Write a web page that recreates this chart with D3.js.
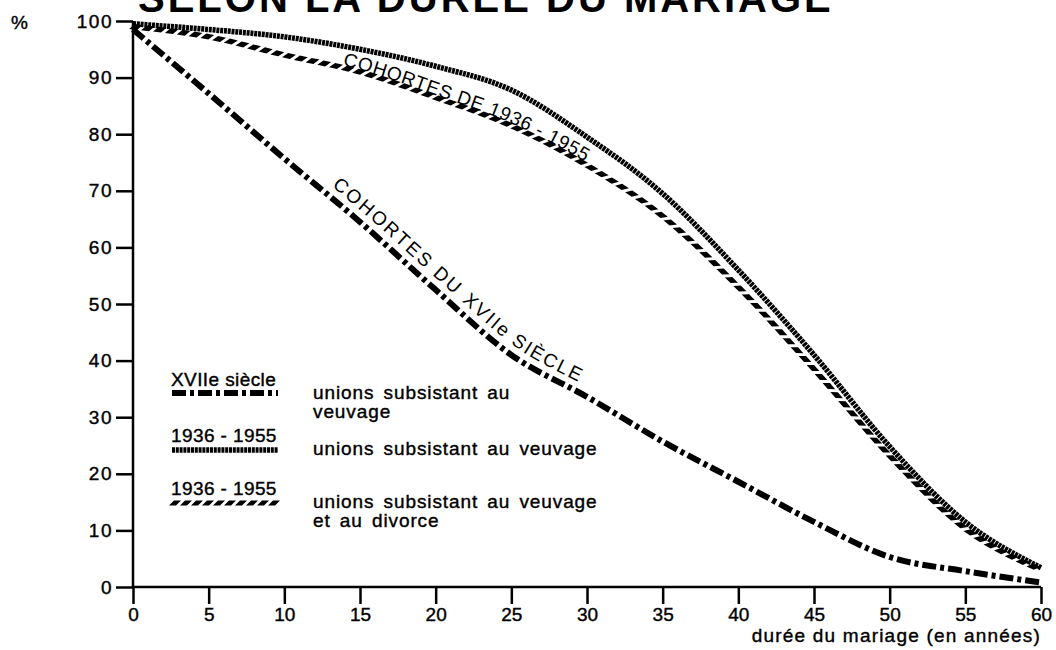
<!DOCTYPE html>
<html lang="fr">
<head>
<meta charset="UTF-8">
<title>Selon la durée du mariage</title>
<script src="https://d3js.org/d3.v7.min.js"></script>
<style>
    body { margin: 0; background: #fff; }
    svg { display: block; font-family: "Liberation Sans", Arial, sans-serif; }
    .tick text { font-size: 19px; fill: #000; stroke: #000; stroke-width: 0.4px; }
    .lbl { font-size: 19px; fill: #000; stroke: #000; stroke-width: 0.4px; }
    .curve-lbl { font-size: 19px; fill: #000; }
</style>
</head>
<body>
<svg width="1056" height="650"></svg>
<script>
// years of marriage
const years = [0, 5, 10, 15, 20, 25, 30, 35, 40, 45, 50, 55, 60];
// % of unions still existing
const xviiSiecle = [98.5, 87.2, 75.7, 64.5, 52.5, 41, 33.6, 25.7, 18.6, 11.5, 5.3, 2.8, 0.8];
const veuvage1936 = [99.5, 98.5, 97.2, 95, 92, 87.8, 79.5, 69.5, 56, 41, 24.8, 11.5, 3.4];
const divorce1936 = [99, 97.2, 94, 91, 86.5, 81.5, 74.5, 65.5, 53, 38.5, 23.2, 10.3, 3];
const xTicks = [0, 5, 10, 15, 20, 25, 30, 35, 40, 45, 50, 55, 60];
const yTicks = [0, 10, 20, 30, 40, 50, 60, 70, 80, 90, 100];

const svg = d3.select("svg");
const x = d3.scaleLinear().domain([0, 60]).range([133, 1041]);
const y = d3.scaleLinear().domain([0, 100]).range([587, 21]);

// title (cut at top like the scan)
svg.append("text")
    .attr("x", 138).attr("y", 12)
    .attr("font-size", 40).attr("font-weight", "bold")
    .attr("letter-spacing", 3)
    .text("SELON LA DURÉE DU MARIAGE");

svg.append("text").attr("class", "lbl")
    .attr("x", 11).attr("y", 29).attr("font-size", 16)
    .text("%");

// axes
const gy = svg.append("g")
    .attr("transform", `translate(${x(0)},0)`)
    .call(d3.axisLeft(y).tickValues(yTicks).tickSize(17).tickPadding(3));
gy.selectAll("text").attr("letter-spacing", 1.5);
gy.select(".domain").attr("d", `M0,${y(100)}V${y(0)}`);

const gx = svg.append("g")
    .attr("transform", `translate(0,${y(0)})`)
    .call(d3.axisBottom(x).tickValues(xTicks).tickSize(17).tickPadding(4));
gx.select(".domain").attr("d", `M${x(0)},0H${x(60)}`);

svg.selectAll(".domain").attr("stroke", "#000").attr("stroke-width", 2.5);
svg.selectAll(".tick line").attr("stroke", "#000").attr("stroke-width", 2.5);

svg.append("text").attr("class", "lbl")
    .attr("x", x(60)).attr("y", 642).attr("text-anchor", "end")
    .attr("letter-spacing", 1.2)
    .text("durée du mariage (en années)");

// curves
const line = d3.line()
    .x(d => x(d[0]))
    .y(d => y(d[1]))
    .curve(d3.curveMonotoneX);

const styles = {
    xvii: { w: 6, dash: "14,4,4,4" },
    veuv: { w: 5.5, dash: "3,0.8" }
};

function drawCurve(vals, st, id) {
    return svg.append("path")
        .attr("id", id)
        .attr("d", line(years.map((yr, i) => [yr, vals[i]])))
        .attr("fill", "none")
        .attr("stroke", "#000")
        .attr("stroke-width", st ? st.w : 1)
        .attr("stroke-dasharray", st ? st.dash : null)
        .attr("stroke-opacity", st ? 1 : 0);
}

// hatched style: slanted little parallelograms walked along a path
function hatch(node, step, len, thick, skew) {
    const total = node.getTotalLength();
    const g = svg.append("g");
    for (let s = 3; s < total - 3; s += step) {
        const p = node.getPointAtLength(s);
        const q = node.getPointAtLength(Math.min(s + 1, total));
        let tx = q.x - p.x, ty = q.y - p.y;
        const n = Math.hypot(tx, ty) || 1;
        tx /= n; ty /= n;
        const nx = ty, ny = -tx; // normal pointing "up"
        const h = thick / 2, a = len / 2;
        const pts = [
            [p.x - tx * a - nx * h - tx * skew, p.y - ty * a - ny * h - ty * skew],
            [p.x + tx * a - nx * h - tx * skew, p.y + ty * a - ny * h - ty * skew],
            [p.x + tx * a + nx * h + tx * skew, p.y + ty * a + ny * h + ty * skew],
            [p.x - tx * a + nx * h + tx * skew, p.y - ty * a + ny * h + ty * skew]
        ];
        g.append("polygon").attr("points", pts.map(d => d.join(",")).join(" ")).attr("fill", "#000");
    }
}

const pDiv = drawCurve(divorce1936, null, "cDiv");
hatch(pDiv.node(), 12, 8, 5.5, 2.5);
const pVeuv = drawCurve(veuvage1936, styles.veuv, "cVeuv");
const pXvii = drawCurve(xviiSiecle, styles.xvii, "cXvii");

// find the path length where the curve reaches a given x pixel
function lengthAtX(node, px) {
    let lo = 0, hi = node.getTotalLength();
    for (let k = 0; k < 40; k++) {
        const mid = (lo + hi) / 2;
        if (node.getPointAtLength(mid).x < px) lo = mid; else hi = mid;
    }
    return lo;
}

svg.append("text").attr("class", "curve-lbl")
    .attr("dy", -9)
    .append("textPath")
    .attr("href", "#cXvii")
    .attr("startOffset", lengthAtX(pXvii.node(), 326))
    .attr("letter-spacing", 2.3)
    .text("COHORTES DU XVIIe SIÈCLE");

svg.append("text").attr("class", "curve-lbl")
    .attr("dy", -2)
    .append("textPath")
    .attr("href", "#cDiv")
    .attr("startOffset", lengthAtX(pDiv.node(), 342))
    .attr("letter-spacing", 0.7)
    .text("COHORTES DE 1936 - 1955");

// legend
const legend = [
    { title: "XVIIe siècle", st: styles.xvii, ty: 386, ly: 393, text: ["unions subsistant au", "veuvage"], tx: 399 },
    { title: "1936 - 1955", st: styles.veuv, ty: 442, ly: 450, text: ["unions subsistant au veuvage"], tx: 455 },
    { title: "1936 - 1955", st: null, ty: 495, ly: 503, text: ["unions subsistant au veuvage", "et au divorce"], tx: 508 }
];
legend.forEach(l => {
    svg.append("text").attr("class", "lbl").attr("x", 171).attr("y", l.ty)
        .attr("letter-spacing", 0.4).text(l.title);
    const ln = svg.append("line")
        .attr("x1", 172).attr("x2", 278).attr("y1", l.ly).attr("y2", l.ly)
        .attr("stroke", "#000").attr("stroke-width", l.st ? l.st.w : 0)
        .attr("stroke-dasharray", l.st ? l.st.dash : null);
    if (!l.st) hatch(ln.node(), 11, 7, 5, 2.5);
    l.text.forEach((t, i) => {
        svg.append("text").attr("class", "lbl").attr("x", 313).attr("y", l.tx + i * 19)
            .attr("letter-spacing", 0.9).attr("word-spacing", 3).text(t);
    });
});
</script>
</body>
</html>
